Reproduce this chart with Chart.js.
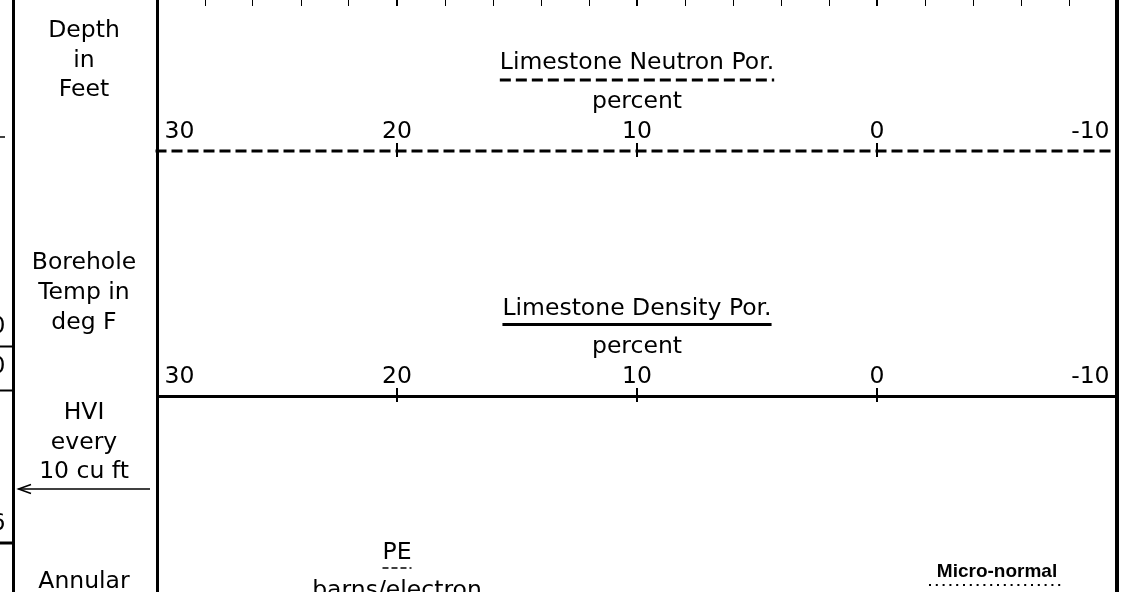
<!DOCTYPE html>
<html>
<head>
<meta charset="utf-8">
<title>Log header - porosity tracks</title>
<script src="https://cdn.jsdelivr.net/npm/chart.js@4/dist/chart.umd.min.js"></script>
<style>
  html, body { margin: 0; padding: 0; background: #fff; }
  #wrap { position: relative; width: 1126px; height: 592px; }
</style>
</head>
<body>
<div id="wrap"><canvas id="logChart"></canvas></div>
<script>
// --- DATA ---
// porosity scale, percent, drawn reversed (30 on the left, -10 on the right)
const porMin = -10;
const porMax = 30;
const porTicks = [30, 20, 10, 0, -10];
const minorStep = 2;

const neutronLabel = ['Limestone Neutron Por.', 'percent'];
const densityLabel = ['Limestone Density Por.', 'percent'];
const peLabel = ['PE', 'barns/electron'];
const microLabel = 'Micro-normal';

const depthLabel = ['Depth', 'in', 'Feet'];
const tempLabel = ['Borehole', 'Temp in', 'deg F'];
const hviLabel = ['HVI', 'every', '10 cu ft'];
const annularLabel = ['Annular'];

// --- STYLE ---
const FONT = '23.5px "DejaVu Sans"';
const INK = '#000';
const neutronDash = [11, 5];
const peDash = [6, 3];
const microDash = [2, 4.8];

// header rows (canvas px from the top)
const ROW_NEU = 151;
const ROW_DEN = 396;

// axes only mark the header, they take no layout room
function collapse(s) {
    if (s.isHorizontal()) s.height = 0; else s.width = 0;
    s.paddingLeft = s.paddingRight = s.paddingTop = s.paddingBottom = 0;
}
function useTicks(s) {
    s.ticks = porTicks.slice().sort((a, b) => a - b).map(v => ({ value: v }));
}
const endLabel = v => v === porMax ? ' ' + v : (v === porMin ? v + ' ' : String(v));
const innerOnly = c => (c.tick && (c.tick.value === porMax || c.tick.value === porMin)) ? 'rgba(0,0,0,0)' : INK;

// solid scale lines use the axis border; the dashed one is stroked by the plugin
function scaleLine(rowY, solid) {
    return {
        type: 'linear', axis: 'x', min: porMin, max: porMax, reverse: true,
        position: { y: rowY },
        afterBuildTicks: useTicks,
        afterFit: collapse,
        grid: { display: false, drawOnChartArea: false },
        border: { display: solid, color: INK, width: 3 },
        ticks: {
            display: true, align: 'inner', padding: -41, maxRotation: 0, autoSkip: false,
            color: INK, font: { family: 'DejaVu Sans', size: 23.5 },
            callback: endLabel
        }
    };
}
function crossTicks(rowY) {
    return {
        type: 'linear', axis: 'x', min: porMin, max: porMax, reverse: true,
        position: { y: rowY - 8 },
        afterBuildTicks: useTicks,
        afterFit: collapse,
        grid: { display: true, drawOnChartArea: false, drawTicks: true, tickLength: 14, lineWidth: 2, color: innerOnly },
        border: { display: false },
        ticks: { display: false }
    };
}

// --- HEADER TEXT AND LEGEND SAMPLES ---
function drawLine(ctx, x1, y1, x2, y2, w, dash) {
    ctx.beginPath();
    ctx.lineWidth = w;
    ctx.setLineDash(dash || []);
    ctx.moveTo(x1, y1);
    ctx.lineTo(x2, y2);
    ctx.stroke();
    ctx.setLineDash([]);
}
function drawStack(ctx, lines, x, y0, step, font) {
    ctx.font = font || FONT;
    ctx.textAlign = 'center';
    ctx.textBaseline = 'alphabetic';
    lines.forEach((t, i) => ctx.fillText(t, x, y0 + i * step));
}
function drawCurveLabel(ctx, label, cx, titleY, sampleY, unitY, w, dash) {
    ctx.font = FONT;
    ctx.textAlign = 'center';
    ctx.textBaseline = 'alphabetic';
    ctx.fillText(label[0], cx, titleY);
    const half = ctx.measureText(label[0]).width / 2;
    drawLine(ctx, cx - half, sampleY, cx + half, sampleY, w, dash);
    ctx.fillText(label[1], cx, unitY);
}

const headerPlugin = {
    id: 'logHeader',
    afterDraw(chart) {
        const ctx = chart.ctx;
        const xs = chart.scales.xNeu;
        const ys = chart.scales.y;
        const colX = 84;
        ctx.save();
        ctx.fillStyle = INK;
        ctx.strokeStyle = INK;

        // dashed neutron scale line across the track
        const ny = ys.getPixelForValue(ROW_NEU);
        drawLine(ctx, xs.left - 1.5, ny, xs.right, ny, 3, neutronDash);

        // depth column divider and the bits of the neighbouring column
        drawLine(ctx, 13.5, 0, 13.5, 592, 3);
        drawLine(ctx, 0, 137, 5, 137, 1.5);
        drawLine(ctx, 0, 346.5, 12, 346.5, 2);
        drawLine(ctx, 0, 390.5, 12, 390.5, 2);
        drawLine(ctx, 0, 543, 12, 543, 3);
        ctx.font = FONT;
        ctx.textAlign = 'right';
        ctx.textBaseline = 'alphabetic';
        ctx.fillText('0', 5.5, 333);
        ctx.fillText('0', 5.5, 373);
        ctx.fillText('6', 5.5, 530);

        // left column captions
        drawStack(ctx, depthLabel, colX, 37, 29.5);
        drawStack(ctx, tempLabel, colX, 269, 30);
        drawStack(ctx, hviLabel, colX, 419, 29.5);
        drawStack(ctx, annularLabel, colX, 588, 30);

        // HVI arrow
        drawLine(ctx, 150, 489, 18.5, 489, 1.5);
        ctx.beginPath();
        ctx.lineWidth = 1.5;
        ctx.moveTo(31, 484.5);
        ctx.lineTo(18.5, 489);
        ctx.lineTo(31, 493.5);
        ctx.stroke();

        // curve captions in the track
        drawCurveLabel(ctx, neutronLabel, xs.getPixelForValue(10), 69, 80, 108, 3, neutronDash);
        drawCurveLabel(ctx, densityLabel, xs.getPixelForValue(10), 315, 324.5, 353, 3, []);
        drawCurveLabel(ctx, peLabel, xs.getPixelForValue(20), 559, 568, 597, 1.5, peDash);

        ctx.font = 'bold 19px "Liberation Sans"';
        ctx.textAlign = 'center';
        const mx = xs.getPixelForValue(-5);
        ctx.fillText(microLabel, mx, 577);
        drawLine(ctx, mx - 68, 585, mx + 68, 585, 2, microDash);

        ctx.restore();
    }
};

// --- CHART ---
const ctx = document.getElementById('logChart').getContext('2d');
const logChart = new Chart(ctx, {
    type: 'scatter',
    data: { datasets: [] },
    options: {
        responsive: true,
        maintainAspectRatio: false,
        animation: false,
        devicePixelRatio: 1,
        layout: { padding: { left: 157, right: 9, top: 0, bottom: 0 } },
        plugins: { legend: { display: false }, tooltip: { enabled: false } },
        scales: {
            y: {
                type: 'linear', axis: 'y', position: 'left', min: 0, max: 592, reverse: true,
                afterFit: collapse,
                grid: { display: false, drawTicks: false },
                border: { display: true, color: INK, width: 3 },
                ticks: { display: false }
            },
            yR: {
                type: 'linear', axis: 'y', position: 'right', min: 0, max: 592, reverse: true,
                afterFit: collapse,
                grid: { display: false, drawTicks: false },
                border: { display: true, color: INK, width: 4 },
                ticks: { display: false }
            },
            xTop: {
                type: 'linear', axis: 'x', min: porMin, max: porMax, reverse: true,
                position: { y: 0 },
                afterFit: collapse,
                grid: {
                    display: true, drawOnChartArea: false, drawTicks: true, tickLength: 6,
                    color: INK, lineWidth: c => (c.tick && c.tick.value % 10 === 0) ? 2 : 1
                },
                border: { display: false },
                ticks: { display: false, stepSize: minorStep, autoSkip: false }
            },
            xNeu: scaleLine(ROW_NEU, false),
            xNeuTk: crossTicks(ROW_NEU),
            xDen: scaleLine(ROW_DEN, true),
            xDenTk: crossTicks(ROW_DEN)
        }
    },
    plugins: [headerPlugin]
});
</script>
</body>
</html>
